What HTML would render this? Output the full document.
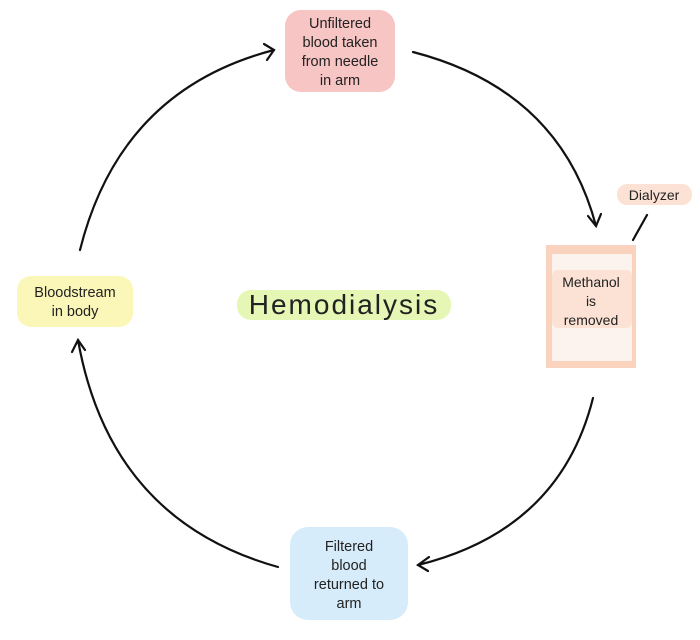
<!DOCTYPE html>
<html><head><style>
body{margin:0;background:#fff;width:700px;height:635px;overflow:hidden}
svg text{font-family:"Liberation Sans",sans-serif;fill:#222}
</style></head><body>
<svg width="700" height="635" viewBox="0 0 700 635" xmlns="http://www.w3.org/2000/svg">
<g fill="none" stroke="#111" stroke-width="2.2" stroke-linecap="round">
<path d="M80 250 Q120 90 274 50"/>
<path d="M264 44 L274 50 L267 60"/>
<path d="M413 52 Q560 90 596 226"/>
<path d="M588 216 L596 226 L601 214"/>
<path d="M593 398 Q560 530 418 565"/>
<path d="M429 557 L418 565 L428 571"/>
<path d="M278 567 Q110 520 78 340"/>
<path d="M72 352 L78 340 L85 350"/>
<path d="M633 240 L647 215"/>
</g>
<rect x="285" y="10" width="110" height="82" rx="16" fill="#f7c5c4"/>
<text font-size="14.5" text-anchor="middle"><tspan x="340" y="28">Unfiltered</tspan><tspan x="340" y="47">blood taken</tspan><tspan x="340" y="66">from needle</tspan><tspan x="340" y="85">in arm</tspan></text>
<rect x="617" y="184" width="75" height="21" rx="10" fill="#fbe2d4"/>
<text x="654" y="200" font-size="14" text-anchor="middle">Dialyzer</text>
<rect x="546" y="245" width="90" height="123" fill="#f9d3bd"/>
<rect x="552" y="254" width="80" height="107" fill="#fdf3ee"/>
<rect x="552" y="270" width="80" height="58" rx="6" fill="#fbe2d4"/>
<text font-size="14" text-anchor="middle"><tspan x="591" y="287">Methanol</tspan><tspan x="591" y="306">is</tspan><tspan x="591" y="325">removed</tspan></text>
<rect x="290" y="527" width="118" height="93" rx="18" fill="#d6ecfa"/>
<text font-size="14.5" text-anchor="middle"><tspan x="349" y="551">Filtered</tspan><tspan x="349" y="570">blood</tspan><tspan x="349" y="589">returned to</tspan><tspan x="349" y="608">arm</tspan></text>
<rect x="17" y="276" width="116" height="51" rx="14" fill="#fbf7b8"/>
<text font-size="14.5" text-anchor="middle"><tspan x="75" y="297">Bloodstream</tspan><tspan x="75" y="316">in body</tspan></text>
<rect x="237" y="290" width="214" height="30" rx="14" fill="#e6f6b4"/>
<text x="344" y="314" font-size="28" text-anchor="middle" letter-spacing="2">Hemodialysis</text>
</svg>
</body></html>
